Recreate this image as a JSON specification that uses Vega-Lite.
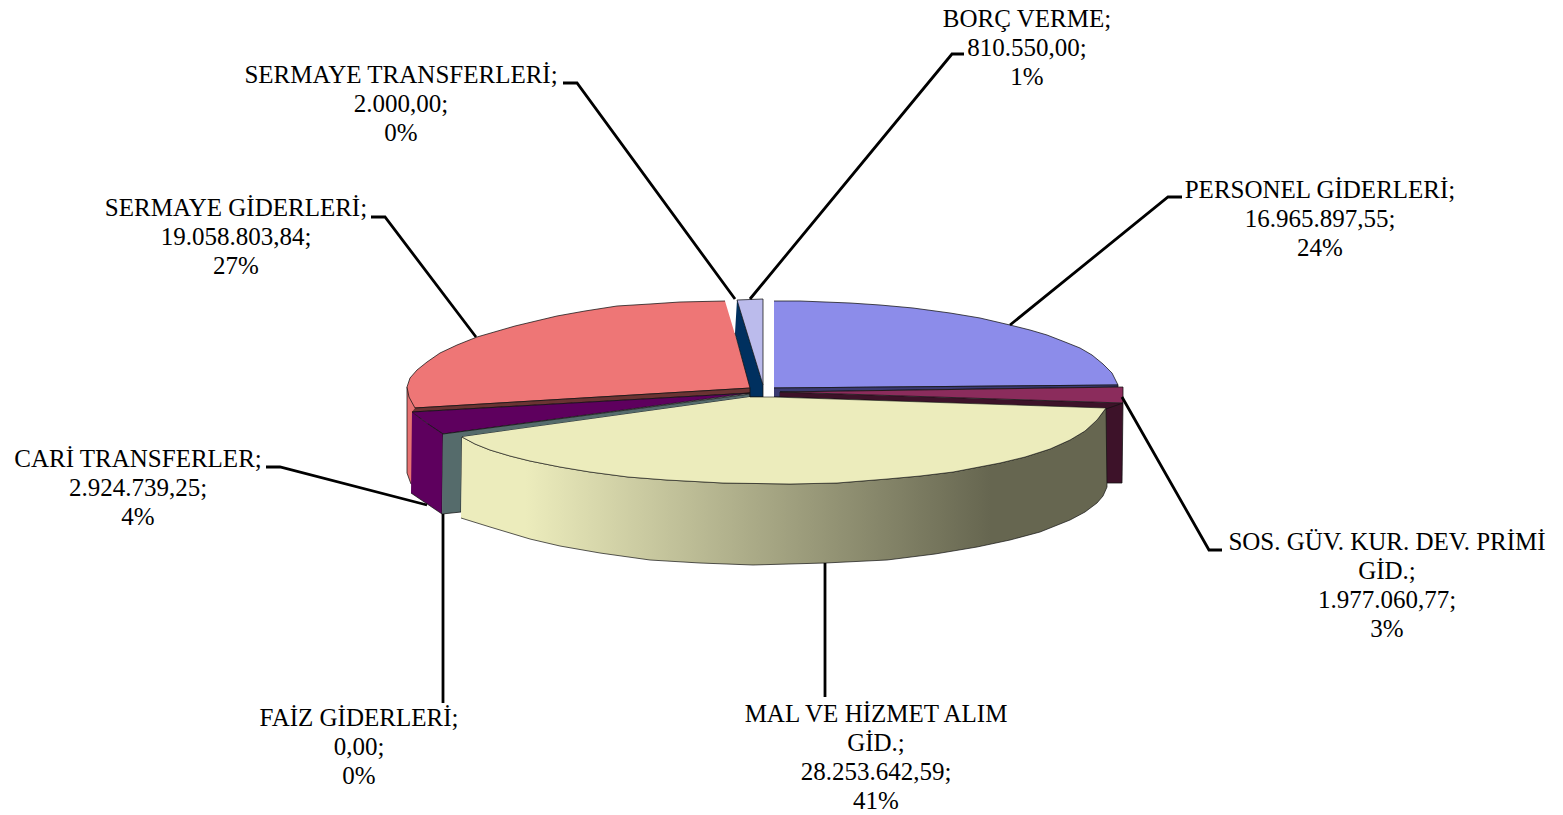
{"$schema":"https://vega.github.io/schema/vega-lite/v6.json","width":1563,"height":815,"padding":0,"autosize":"none","background":"white","view":{"stroke":null},
"datasets":{
"shapes":[
{"part":"redside","x":407,"y":387},{"part":"redside","x":407,"y":473},{"part":"redside","x":411,"y":484},{"part":"redside","x":420,"y":484},{"part":"redside","x":420,"y":400},
{"part":"redtop","x":725,"y":301},{"part":"redtop","x":680,"y":302},{"part":"redtop","x":650,"y":304},{"part":"redtop","x":617,"y":306},{"part":"redtop","x":585,"y":311},{"part":"redtop","x":557,"y":316},{"part":"redtop","x":515,"y":326},{"part":"redtop","x":477,"y":337},{"part":"redtop","x":457,"y":345},{"part":"redtop","x":440,"y":353},{"part":"redtop","x":427,"y":362},{"part":"redtop","x":417,"y":370},{"part":"redtop","x":410,"y":378},{"part":"redtop","x":407,"y":387},{"part":"redtop","x":409,"y":397},{"part":"redtop","x":415,"y":408},{"part":"redtop","x":751,"y":388},
{"part":"brown","x":415,"y":408},{"part":"brown","x":751,"y":388},{"part":"brown","x":751,"y":393},{"part":"brown","x":412,"y":412},
{"part":"purpletop","x":412,"y":412},{"part":"purpletop","x":751,"y":393},{"part":"purpletop","x":443,"y":434},{"part":"purpletop","x":428,"y":424},
{"part":"purpleside","x":412,"y":412},{"part":"purpleside","x":428,"y":424},{"part":"purpleside","x":443,"y":434},{"part":"purpleside","x":442,"y":514},{"part":"purpleside","x":411,"y":493},
{"part":"tealside","x":443,"y":434},{"part":"tealside","x":750,"y":394},{"part":"tealside","x":750,"y":397},{"part":"tealside","x":462,"y":437},{"part":"tealside","x":461,"y":512},{"part":"tealside","x":442,"y":514},
{"part":"lavender","x":737,"y":300},{"part":"lavender","x":763,"y":299},{"part":"lavender","x":763,"y":385},
{"part":"navy","x":737,"y":300},{"part":"navy","x":763,"y":385},{"part":"navy","x":763,"y":397},{"part":"navy","x":750,"y":397},{"part":"navy","x":750,"y":388},{"part":"navy","x":735,"y":333},
{"part":"blue","x":774,"y":301},{"part":"blue","x":800,"y":301},{"part":"blue","x":850,"y":303},{"part":"blue","x":880,"y":305},{"part":"blue","x":913,"y":308},{"part":"blue","x":950,"y":313},{"part":"blue","x":980,"y":318},{"part":"blue","x":1010,"y":325},{"part":"blue","x":1030,"y":330},{"part":"blue","x":1047,"y":335},{"part":"blue","x":1065,"y":342},{"part":"blue","x":1080,"y":348},{"part":"blue","x":1092,"y":355},{"part":"blue","x":1103,"y":364},{"part":"blue","x":1112,"y":373},{"part":"blue","x":1118,"y":385},{"part":"blue","x":774,"y":388},
{"part":"bluestrip","x":774,"y":388},{"part":"bluestrip","x":1118,"y":385},{"part":"bluestrip","x":1118,"y":387},{"part":"bluestrip","x":780,"y":392},{"part":"bluestrip","x":780,"y":397},{"part":"bluestrip","x":774,"y":397},
{"part":"maroonside","x":1100,"y":404},{"part":"maroonside","x":1123,"y":403},{"part":"maroonside","x":1122,"y":483},{"part":"maroonside","x":1100,"y":483},
{"part":"maroontop","x":780,"y":392},{"part":"maroontop","x":1123,"y":387},{"part":"maroontop","x":1123,"y":403},
{"part":"maroonstrip","x":780,"y":392},{"part":"maroonstrip","x":1123,"y":403},{"part":"maroonstrip","x":1106,"y":409},{"part":"maroonstrip","x":780,"y":397}
],
"yellowtop":[
{"x":750,"y":397},{"x":773,"y":397},{"x":1106,"y":408},{"x":1097,"y":420},{"x":1085,"y":431},{"x":1070,"y":440},{"x":1050,"y":449},{"x":1025,"y":457},{"x":1000,"y":463},{"x":953,"y":472},{"x":920,"y":476},{"x":887,"y":479},{"x":837,"y":483},{"x":790,"y":484},{"x":723,"y":483},{"x":667,"y":480},{"x":628,"y":477},{"x":590,"y":472},{"x":560,"y":467},{"x":530,"y":461},{"x":510,"y":456},{"x":490,"y":450},{"x":475,"y":444},{"x":462,"y":437}
],
"yellowside":[
{"x":462,"y":437},{"x":475,"y":444},{"x":490,"y":450},{"x":510,"y":456},{"x":530,"y":461},{"x":560,"y":467},{"x":590,"y":472},{"x":628,"y":477},{"x":667,"y":480},{"x":723,"y":483},{"x":790,"y":484},{"x":837,"y":483},{"x":887,"y":479},{"x":920,"y":476},{"x":953,"y":472},{"x":1000,"y":463},{"x":1025,"y":457},{"x":1050,"y":449},{"x":1070,"y":440},{"x":1085,"y":431},{"x":1097,"y":420},{"x":1106,"y":408},{"x":1107,"y":487},{"x":1103,"y":496},{"x":1097,"y":503},{"x":1085,"y":512},{"x":1070,"y":520},{"x":1040,"y":532},{"x":1010,"y":540},{"x":977,"y":547},{"x":935,"y":554},{"x":887,"y":560},{"x":825,"y":563},{"x":753,"y":565},{"x":700,"y":563},{"x":650,"y":560},{"x":600,"y":553},{"x":560,"y":546},{"x":530,"y":539},{"x":490,"y":527},{"x":461,"y":518}
],
"leaders":[
{"k":"borc","x":750,"y":299},{"k":"borc","x":952,"y":54},{"k":"borc","x":964,"y":54},
{"k":"st","x":735,"y":299},{"k":"st","x":577,"y":83},{"k":"st","x":563,"y":83},
{"k":"pers","x":1010,"y":325},{"k":"pers","x":1168,"y":197},{"k":"pers","x":1182,"y":197},
{"k":"sg","x":476,"y":337},{"k":"sg","x":385,"y":217},{"k":"sg","x":371,"y":217},
{"k":"cari","x":427,"y":505},{"k":"cari","x":280,"y":467},{"k":"cari","x":266,"y":467},
{"k":"sos","x":1122,"y":397},{"k":"sos","x":1209,"y":550},{"k":"sos","x":1222,"y":550},
{"k":"mal","x":825,"y":563},{"k":"mal","x":825,"y":697},
{"k":"faiz","x":443,"y":514},{"k":"faiz","x":443,"y":703}
],
"labels":[
{"t":"BORÇ VERME;\n810.550,00;\n1%","x":1027,"y":27},
{"t":"SERMAYE TRANSFERLERİ;\n2.000,00;\n0%","x":401,"y":83},
{"t":"PERSONEL GİDERLERİ;\n16.965.897,55;\n24%","x":1320,"y":198},
{"t":"SERMAYE GİDERLERİ;\n19.058.803,84;\n27%","x":236,"y":216},
{"t":"CARİ TRANSFERLER;\n2.924.739,25;\n4%","x":138,"y":467},
{"t":"SOS. GÜV. KUR. DEV. PRİMİ\nGİD.;\n1.977.060,77;\n3%","x":1387,"y":550},
{"t":"MAL VE HİZMET ALIM\nGİD.;\n28.253.642,59;\n41%","x":876,"y":722},
{"t":"FAİZ GİDERLERİ;\n0,00;\n0%","x":359,"y":726}
]},
"layer":[
{"data":{"name":"shapes"},"transform":[{"window":[{"op":"row_number","as":"i"}]}],"mark":{"type":"line","filled":true,"strokeWidth":1,"strokeOpacity":0.75,"stroke":"#111"},
"encoding":{"x":{"field":"x","type":"quantitative","scale":{"domain":[0,1563],"nice":false,"zero":false},"axis":null},"y":{"field":"y","type":"quantitative","scale":{"domain":[815,0],"nice":false,"zero":false},"axis":null},"order":{"field":"i"},
"detail":{"field":"part"},
"fill":{"field":"part","type":"nominal","legend":null,"scale":{"domain":["redside","redtop","brown","purpletop","purpleside","tealside","lavender","navy","blue","bluestrip","maroonside","maroontop","maroonstrip"],"range":["#E87272","#EE7676","#6B3333","#5E005E","#5E005E","#556B6B","#BBBBEC","#00305F","#8C8CEA","#3A3A70","#3D1229","#8B2C5C","#3D1229"]}}}},
{"data":{"name":"yellowside"},"transform":[{"window":[{"op":"row_number","as":"i"}]}],"mark":{"type":"line","filled":true,"strokeWidth":1,"stroke":"#111","strokeOpacity":0.7,"fill":{"x1":0,"x2":1,"y1":0,"y2":0,"gradient":"linear","stops":[{"offset":0,"color":"#ECECBC"},{"offset":0.1,"color":"#ECECBC"},{"offset":0.82,"color":"#666650"},{"offset":1,"color":"#666650"}]}},
"encoding":{"x":{"field":"x","type":"quantitative","scale":{"domain":[0,1563],"nice":false,"zero":false},"axis":null},"y":{"field":"y","type":"quantitative","scale":{"domain":[815,0],"nice":false,"zero":false},"axis":null},"order":{"field":"i"}}},
{"data":{"name":"yellowtop"},"transform":[{"window":[{"op":"row_number","as":"i"}]}],"mark":{"type":"line","filled":true,"strokeWidth":1,"stroke":"#111","strokeOpacity":0.6,"fill":"#ECECBC"},
"encoding":{"x":{"field":"x","type":"quantitative","scale":{"domain":[0,1563],"nice":false,"zero":false},"axis":null},"y":{"field":"y","type":"quantitative","scale":{"domain":[815,0],"nice":false,"zero":false},"axis":null},"order":{"field":"i"}}},
{"data":{"name":"leaders"},"transform":[{"window":[{"op":"row_number","as":"i"}]}],"mark":{"type":"line","stroke":"#000","strokeWidth":2.8},
"encoding":{"x":{"field":"x","type":"quantitative","scale":{"domain":[0,1563],"nice":false,"zero":false},"axis":null},"y":{"field":"y","type":"quantitative","scale":{"domain":[815,0],"nice":false,"zero":false},"axis":null},"order":{"field":"i"},"detail":{"field":"k"}}},
{"data":{"name":"labels"},"mark":{"type":"text","font":"Liberation Serif","fontSize":25,"lineBreak":"\n","lineHeight":29,"align":"center","baseline":"alphabetic","color":"#000"},
"encoding":{"x":{"field":"x","type":"quantitative","scale":{"domain":[0,1563],"nice":false,"zero":false},"axis":null},"y":{"field":"y","type":"quantitative","scale":{"domain":[815,0],"nice":false,"zero":false},"axis":null},"text":{"field":"t"}}}
]}
